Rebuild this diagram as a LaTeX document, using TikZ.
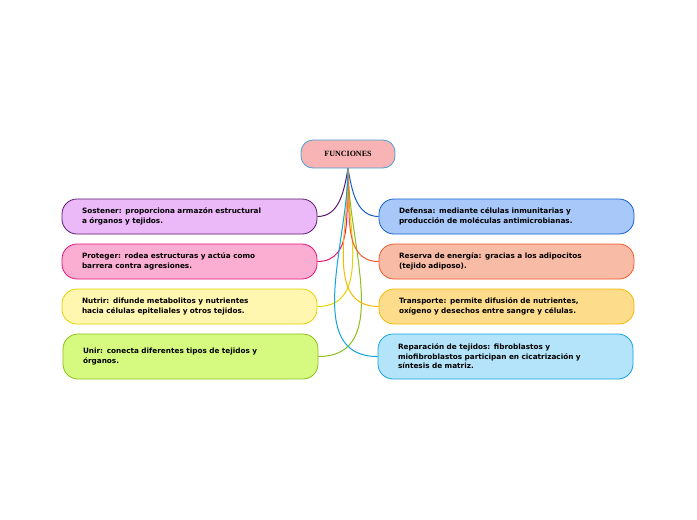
\documentclass[tikz,border=0pt]{standalone}
\usepackage{fontspec}
\setmainfont{DejaVu Sans}
\newfontfamily\rootfont{Liberation Serif}
\definecolor{cPur}{HTML}{5C1A6E}\definecolor{fPur}{HTML}{EBB8F8}
\definecolor{cPnk}{HTML}{E0157A}\definecolor{fPnk}{HTML}{FBAED2}
\definecolor{cYel}{HTML}{E6D200}\definecolor{fYel}{HTML}{FFF6B0}
\definecolor{cGrn}{HTML}{8BBF1A}\definecolor{fGrn}{HTML}{D6FA80}
\definecolor{cBlu}{HTML}{1560D0}\definecolor{fBlu}{HTML}{A8C8FA}
\definecolor{cRed}{HTML}{F05A28}\definecolor{fRed}{HTML}{F8BBA6}
\definecolor{cOra}{HTML}{F5B800}\definecolor{fOra}{HTML}{FDDC8C}
\definecolor{cCya}{HTML}{12A3E0}\definecolor{fCya}{HTML}{B4E4FA}
\definecolor{fRoot}{HTML}{F8B4B4}\definecolor{cRoot}{HTML}{4A9FD8}
\tikzset{
  topic/.style={draw, rounded corners=15pt, line width=0.8pt, minimum width=255pt,
    minimum height=35pt, text width=215pt, align=left, inner xsep=20pt,
    font=\fontsize{7.3}{9.5}\selectfont\bfseries},
  link/.style={line width=1pt}
}
\begin{document}
\begin{tikzpicture}[x=1pt,y=-1pt]
\useasboundingbox (0,0) rectangle (697,520);
\node[draw=cRoot, fill=fRoot, rounded corners=12pt, line width=0.8pt, minimum width=94pt,
  minimum height=28pt, font=\rootfont\fontsize{8}{10}\selectfont\bfseries] (root) at (348,154) {FUNCIONES};
% left side
\node[topic, draw=cPur, fill=fPur] (sost) at (189.5,216.5) {Sostener: proporciona armazón estructural\\a órganos y tejidos.};
\node[topic, draw=cPnk, fill=fPnk] (prot) at (189.5,261.5) {Proteger: rodea estructuras y actúa como\\barrera contra agresiones.};
\node[topic, draw=cYel, fill=fYel] (nutr) at (189.5,306.5) {Nutrir: difunde metabolitos y nutrientes\\hacia células epiteliales y otros tejidos.};
\node[topic, draw=cGrn, fill=fGrn, minimum width=253pt, minimum height=45pt] (unir) at (190.5,356.5) {Unir: conecta diferentes tipos de tejidos y\\órganos.\\[9pt]};
% right side
\node[topic, draw=cBlu, fill=fBlu] (defe) at (506.5,216.5) {Defensa: mediante células inmunitarias y\\producción de moléculas antimicrobianas.};
\node[topic, draw=cRed, fill=fRed] (rese) at (506.5,261.5) {Reserva de energía: gracias a los adipocitos\\(tejido adiposo).};
\node[topic, draw=cOra, fill=fOra] (tran) at (506.5,306.5) {Transporte: permite difusión de nutrientes,\\oxígeno y desechos entre sangre y células.};
\node[topic, draw=cCya, fill=fCya, minimum width=253pt, minimum height=45pt] (repa) at (505.5,356.5) {Reparación de tejidos: fibroblastos y\\miofibroblastos participan en cicatrización y\\síntesis de matriz.};
% connectors
\draw[link, cPur] (root.south) to[out=260, in=0] (sost.east);
\draw[link, cPnk] (root.south) to[out=265, in=0] (prot.east);
\draw[link, cYel] (root.south) to[out=268, in=0] (nutr.east);
\draw[link, cGrn] (root.south) to[out=270, in=0] (unir.east);
\draw[link, cBlu] (root.south) to[out=280, in=180] (defe.west);
\draw[link, cRed] (root.south) to[out=275, in=180] (rese.west);
\draw[link, cOra] (root.south) to[out=272, in=180] (tran.west);
\draw[link, cCya] (root.south) to[out=270, in=180] (repa.west);
\end{tikzpicture}
\end{document}
